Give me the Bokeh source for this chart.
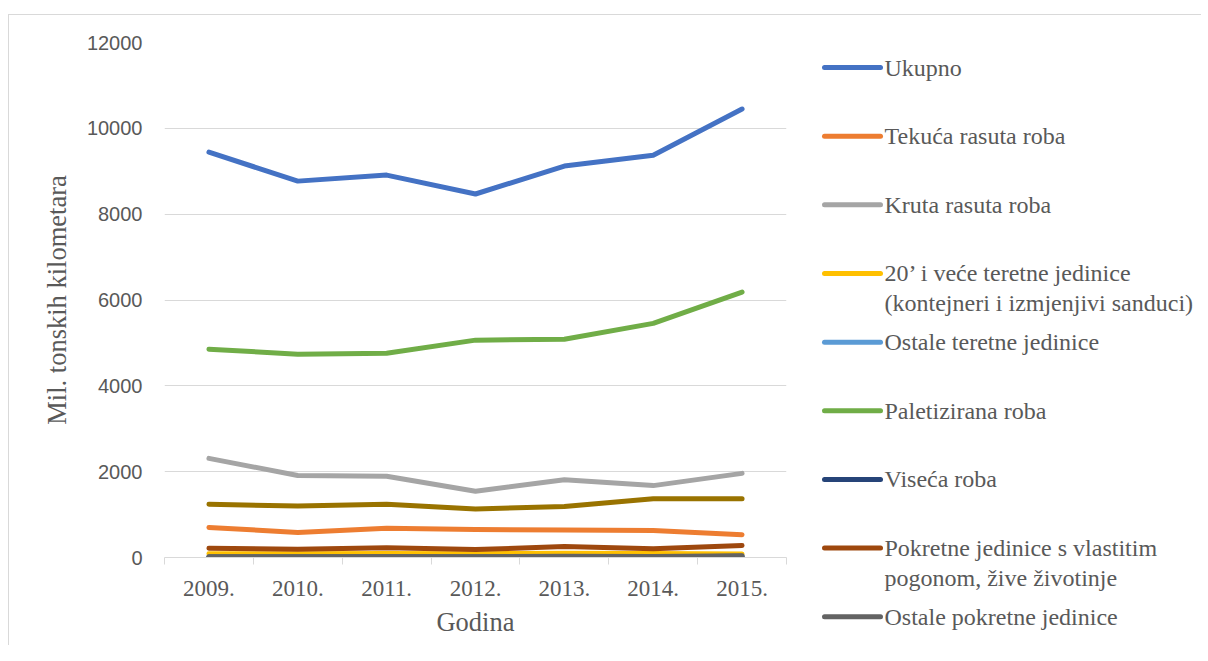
from bokeh.plotting import figure
from bokeh.models import FixedTicker, Range1d, ColumnDataSource
from bokeh.layouts import row
from bokeh.core.properties import value
from bokeh.embed import file_html
from bokeh.resources import INLINE

# ---------------- data ----------------
years = ["2009.", "2010.", "2011.", "2012.", "2013.", "2014.", "2015."]
y_ticks = [0, 2000, 4000, 6000, 8000, 10000, 12000]

ukupno = [9445, 8770, 8910, 8470, 9120, 9375, 10450]
tekuca_rasuta = [700, 585, 680, 650, 640, 630, 530]
kruta_rasuta = [2310, 1910, 1895, 1545, 1810, 1675, 1960]
kontejneri = [90, 85, 95, 90, 100, 95, 80]
ostale_teretne = [5, 5, 5, 5, 5, 5, 5]
paletizirana = [4855, 4735, 4760, 5065, 5085, 5455, 6185]
viseca = [10, 10, 10, 10, 15, 10, 30]
pokretne_vlastiti = [215, 195, 225, 185, 255, 205, 280]
ostale_pokretne = [20, 20, 25, 20, 30, 25, 40]
nepoznato = [1240, 1200, 1240, 1130, 1190, 1370, 1370]  # series without legend entry

series_names = [
    "Ukupno",
    "Tekuća rasuta roba",
    "Kruta rasuta roba",
    "20’ i veće teretne jedinice\n(kontejneri i izmjenjivi sanduci)",
    "Ostale teretne jedinice",
    "Paletizirana roba",
    "Viseća roba",
    "Pokretne jedinice s vlastitim\npogonom, žive životinje",
    "Ostale pokretne jedinice",
]
series_values = [ukupno, tekuca_rasuta, kruta_rasuta, kontejneri, ostale_teretne,
                 paletizirana, viseca, pokretne_vlastiti, ostale_pokretne]
series_colors = ["#4472C4", "#ED7D31", "#A5A5A5", "#FFC000", "#5B9BD5",
                 "#70AD47", "#264478", "#9E480E", "#636363"]
extra_color = "#997300"

TXT = "#595959"
GRID = "#d9d9d9"
SERIF = "Liberation Serif"

# ---------------- main plot ----------------
n = len(years)
xs = [i + 0.5 for i in range(n)]

p = figure(width=800, height=630, x_range=Range1d(0, n), y_range=Range1d(0, 12000),
           output_backend="svg", toolbar_location=None,
           min_border_left=155, min_border_right=23, min_border_top=27, min_border_bottom=88)
p.outline_line_color = None
p.background_fill_color = "white"
p.border_fill_color = "white"

for vals, col in zip(series_values, series_colors):
    p.line(xs, vals, line_color=col, line_width=5, line_cap="round", line_join="round")
p.line(xs, nepoznato, line_color=extra_color, line_width=5, line_cap="round", line_join="round")

# x axis
p.xaxis.ticker = FixedTicker(ticks=xs, minor_ticks=list(range(n + 1)))
p.xaxis.major_label_overrides = {x: lbl for x, lbl in zip(xs, years)}
p.xaxis.major_tick_line_color = None
p.xaxis.major_tick_out = 0
p.xaxis.major_tick_in = 0
p.xaxis.minor_tick_line_color = GRID
p.xaxis.minor_tick_line_width = 1
p.xaxis.minor_tick_out = 7
p.xaxis.minor_tick_in = 0
p.xaxis.axis_line_color = GRID
p.xaxis.major_label_text_font = SERIF
p.xaxis.major_label_text_font_size = "23px"
p.xaxis.major_label_text_color = TXT
p.xaxis.major_label_standoff = 16
p.xaxis.axis_label = "Godina"
p.xaxis.axis_label_text_font = SERIF
p.xaxis.axis_label_text_font_size = "26.5px"
p.xaxis.axis_label_text_font_style = "normal"
p.xaxis.axis_label_text_color = TXT
p.xaxis.axis_label_standoff = 8
p.xgrid.visible = False

# y axis
p.yaxis.ticker = FixedTicker(ticks=y_ticks)
p.yaxis.axis_line_color = None
p.yaxis.major_tick_line_color = None
p.yaxis.major_tick_out = 0
p.yaxis.major_tick_in = 0
p.yaxis.minor_tick_line_color = None
p.yaxis.major_label_text_font = "Liberation Sans"
p.yaxis.major_label_text_font_size = "20px"
p.yaxis.major_label_text_color = TXT
p.yaxis.major_label_standoff = 22
p.yaxis.axis_label = "Mil. tonskih kilometara"
p.yaxis.axis_label_text_font = SERIF
p.yaxis.axis_label_text_font_size = "26.5px"
p.yaxis.axis_label_text_font_style = "normal"
p.yaxis.axis_label_text_color = TXT
p.yaxis.axis_label_standoff = 12
p.ygrid.grid_line_color = GRID
p.ygrid.grid_line_width = 1

# ---------------- legend panel ----------------
LW, LH = 392, 630
lg = figure(width=LW, height=LH, x_range=Range1d(0, LW), y_range=Range1d(LH, 0),
            output_backend="svg", toolbar_location=None,
            min_border=0, min_border_left=0, min_border_right=0,
            min_border_top=0, min_border_bottom=0)
lg.outline_line_color = None
lg.axis.visible = False
lg.grid.visible = False
lg.background_fill_color = "white"
lg.border_fill_color = "white"
for fig in (p, lg):
    if "frame_align" in fig.properties():
        fig.frame_align = False

y0, step, line_gap = 52, 68.66, 30
tx, ty, tt = [], [], []
for i, (name, col) in enumerate(zip(series_names, series_colors)):
    yc = y0 + i * step
    lg.line([15, 71], [yc, yc], line_color=col, line_width=5, line_cap="round")
    for j, part in enumerate(name.split("\n")):
        tx.append(75)
        ty.append(yc + j * line_gap)
        tt.append(part)
lg.text(x="x", y="y", text="text", source=ColumnDataSource(dict(x=tx, y=ty, text=tt)),
        text_font=value(SERIF), text_font_size="24px", text_color=TXT,
        text_baseline="middle", text_align="left")

layout = row(p, lg, margin=(14, 0, 0, 8),
             styles={"border-left": "1px solid #d9d9d9", "border-top": "1px solid #d9d9d9"})

open("out.html", "w").write(file_html(layout, INLINE))
